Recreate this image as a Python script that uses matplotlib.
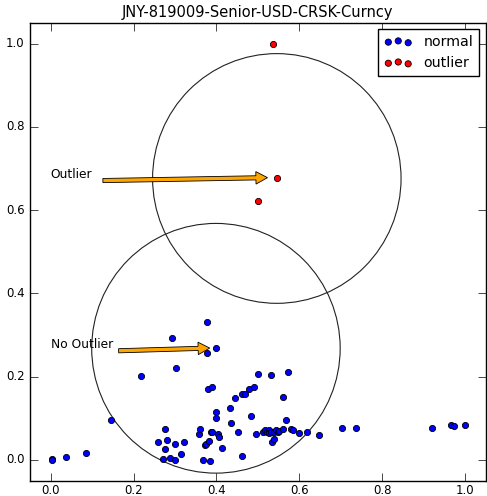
import matplotlib
matplotlib.use("Agg")
import matplotlib.pyplot as plt
from matplotlib.patches import Circle

# normal points
normal_x = [0.002, 0.002, 0.037, 0.086, 0.145, 0.219, 0.260, 0.270, 0.277, 0.277,
            0.281, 0.289, 0.294, 0.300, 0.301, 0.302, 0.314, 0.321, 0.357, 0.360,
            0.367, 0.372, 0.374, 0.377, 0.378, 0.381, 0.383, 0.385, 0.386, 0.389,
            0.390, 0.399, 0.399, 0.400, 0.403, 0.407, 0.414, 0.432, 0.435, 0.445,
            0.452, 0.462, 0.463, 0.468, 0.479, 0.484, 0.492, 0.495, 0.500, 0.512,
            0.518, 0.522, 0.526, 0.528, 0.532, 0.532, 0.535, 0.539, 0.540, 0.544,
            0.548, 0.552, 0.560, 0.561, 0.567, 0.572, 0.581, 0.586, 0.600, 0.618,
            0.649, 0.704, 0.738, 0.920, 0.966, 0.974, 1.000]
normal_y = [0.003, 0.000, 0.007, 0.017, 0.096, 0.201, 0.042, 0.002, 0.026, 0.074,
            0.047, 0.005, 0.292, 0.000, 0.037, 0.221, 0.013, 0.042, 0.063, 0.074,
            0.000, 0.036, 0.038, 0.256, 0.332, 0.169, 0.046, -0.002, 0.068, 0.068,
            0.175, 0.268, 0.116, 0.100, 0.062, 0.056, 0.029, 0.124, 0.088, 0.149,
            0.068, 0.008, 0.159, 0.159, 0.169, 0.105, 0.175, 0.062, 0.206, 0.068,
            0.071, 0.068, 0.071, 0.064, 0.204, 0.068, 0.044, 0.068, 0.049, 0.071,
            0.066, 0.070, 0.073, 0.152, 0.096, 0.211, 0.073, 0.071, 0.064, 0.066,
            0.060, 0.077, 0.077, 0.077, 0.083, 0.082, 0.083]

# outliers
outlier_x = [0.536, 0.546, 0.500]
outlier_y = [1.000, 0.676, 0.621]

# the two highlighted points (circle centres / arrow targets)
hi_outlier = (0.546, 0.676)
hi_normal = (0.399, 0.268)
radius = 0.3

plt.style.use("classic")
plt.rcParams["font.size"] = 8.5

fig = plt.figure(figsize=(4.87, 4.96), dpi=100, facecolor="white")
ax = fig.add_axes([0.0616, 0.031, 0.9354, 0.923])

ax.scatter(normal_x, normal_y, s=20, c="blue", edgecolors="black", linewidths=0.6,
           label="normal", zorder=3)
ax.scatter(outlier_x, outlier_y, s=20, c="red", edgecolors="black", linewidths=0.6,
           label="outlier", zorder=3)

ax.add_patch(Circle(hi_outlier, radius, fill=False, ec="#222222", lw=0.8))
ax.add_patch(Circle(hi_normal, radius, fill=False, ec="#222222", lw=0.8))

ax.text(0.0, hi_outlier[1], "Outlier", fontsize=8.8)
ax.text(0.0, hi_normal[1], "No Outlier", fontsize=8.8)

# arrows pointing at the two points
ax.arrow(0.126, 0.671, 0.5235 - 0.126, 0.678 - 0.671, width=0.01, head_width=0.03,
         head_length=0.028, length_includes_head=True, fc="orange", ec="black",
         lw=0.6, zorder=4)
ax.arrow(0.164, 0.262, 0.384 - 0.164, 0.2685 - 0.262, width=0.01, head_width=0.03,
         head_length=0.028, length_includes_head=True, fc="orange", ec="black",
         lw=0.6, zorder=4)

ax.set_xlim(-0.05, 1.05)
ax.set_ylim(-0.05, 1.05)
ax.set_xticks([0.0, 0.2, 0.4, 0.6, 0.8, 1.0])
ax.set_yticks([0.0, 0.2, 0.4, 0.6, 0.8, 1.0])
ax.tick_params(length=5.5)
ax.tick_params(axis="x", pad=2.5)
ax.set_title("JNY-819009-Senior-USD-CRSK-Curncy", fontsize=10.5, pad=4)
ax.legend(loc="upper right", fontsize=10.2, borderaxespad=0.45)

fig.savefig("out.png", dpi=100, facecolor="white")
